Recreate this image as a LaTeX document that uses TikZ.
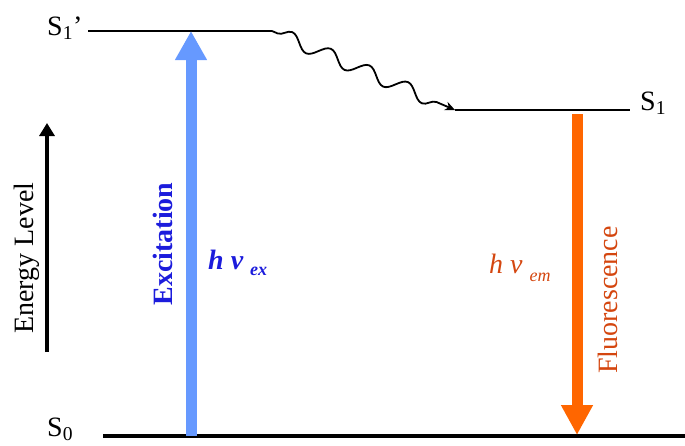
\documentclass[tikz,border=0pt]{standalone}
\usepackage{fontspec}
\setmainfont{Liberation Serif}
\usepackage{xcolor}
\usetikzlibrary{arrows.meta,decorations.pathmorphing}
\definecolor{exblue}{HTML}{6699FF}
\definecolor{exbluetext}{HTML}{1C1CDC}
\definecolor{emorange}{HTML}{FF6600}
\definecolor{emorangetext}{HTML}{D4460F}
\newcommand{\bigtext}{\fontsize{28}{30}\selectfont}
\newcommand{\subtext}{\fontsize{18}{20}\selectfont}

\begin{document}
\begin{tikzpicture}[x=1pt,y=-1pt,font=\bigtext]
  \tikzset{level/.style={draw, line width=2.5pt},
    photon/.style={line width=11pt},
    sidelabel/.style={rotate=90, anchor=base, inner sep=0pt},
    ratelabel/.style={anchor=base west, inner sep=0pt, font=\bigtext\itshape},
    statelabel/.style={anchor=base west, inner sep=0pt}}
  \useasboundingbox (0,0) rectangle (685,445);
  \coordinate (s0a) at (103,436);
  \coordinate (s0b) at (685,436);
  \coordinate (s1pa) at (88,31);
  \coordinate (s1pb) at (272,31);
  \coordinate (s1a) at (455,110);
  \coordinate (s1b) at (630,110);
  \coordinate (exbot) at (191,436);
  \coordinate (extop) at (191,31);
  \coordinate (emtop) at (577,114);
  \coordinate (embot) at (577,435);
  \coordinate (ela) at (47,352);
  \coordinate (elb) at (47,123);
  \node[statelabel] (s0lab) at (47,436) {S\textsubscript{0}};
  \node[statelabel] (s1plab) at (47,35) {S\textsubscript{1}’};
  \node[statelabel] (s1lab) at (640,110) {S\textsubscript{1}};
  \node[sidelabel] (energy) at (33,258) {Energy Level};
  \node[sidelabel, exbluetext, font=\bigtext\bfseries] (excite) at (172,244) {Excitation};
  \node[sidelabel, emorangetext] (fluor) at (617,300) {Fluorescence};
  \node[ratelabel, exbluetext, font=\bigtext\bfseries\itshape] (hvex) at (208,269) {h ν \raisebox{-6pt}{\subtext ex}};
  \node[ratelabel, emorangetext] (hvem) at (489,273) {h ν \raisebox{-8pt}{\subtext em}};
  \draw[level, line width=4.5pt] (s0a) -- (s0b);
  \draw[level] (s1pa) -- (s1pb);
  \draw[level] (s1a) -- (s1b);
  \draw[line width=1.8pt, -{Stealth[length=10pt,width=9pt]}, decorate,
    decoration={snake, amplitude=7pt, segment length=42pt, pre length=6pt, post length=8pt}] (s1pb) -- (s1a);
  \draw[photon, exblue, -{Triangle[width=30pt,length=29pt]}] (exbot) -- (extop);
  \draw[photon, emorange, -{Triangle[width=30pt,length=30pt]}] (emtop) -- (embot);
  \draw[line width=4.5pt, -{Triangle[width=15pt,length=13pt]}] (ela) -- (elb);
\end{tikzpicture}
\end{document}
